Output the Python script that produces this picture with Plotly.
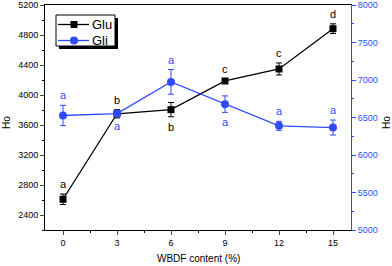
import plotly.graph_objects as go

wbdf = [0, 3, 6, 9, 12, 15]
glu = [2610, 3750, 3805, 4187, 4347, 4884]
glu_err = [70, 55, 95, 25, 80, 65]
gli = [6527, 6553, 6975, 6678, 6389, 6366]
gli_err = [135, 30, 165, 110, 60, 100]
glu_letters = ["a", "b", "b", "c", "c", "d"]
glu_pos = ["up", "up", "down", "up", "up", "up"]
gli_letters = ["a", "a", "a", "a", "a", "a"]
gli_pos = ["up", "down", "up", "down", "up", "up"]
series_names = ["Glu", "Gli"]

BLUE = "#2f4bff"
FONT = "Arial, Liberation Sans, sans-serif"

fig = go.Figure()
fig.add_trace(go.Scatter(
    x=wbdf, y=glu, name=series_names[0], mode="lines+markers",
    line=dict(color="black", width=1.3),
    marker=dict(symbol="square", size=7, color="black"),
    error_y=dict(type="data", array=glu_err, color="black", thickness=1, width=3),
))
fig.add_trace(go.Scatter(
    x=wbdf, y=gli, name=series_names[1], mode="lines+markers", yaxis="y2",
    line=dict(color=BLUE, width=1.3),
    marker=dict(symbol="circle", size=8, color=BLUE),
    error_y=dict(type="data", array=gli_err, color=BLUE, thickness=1, width=3),
))

annotations = []
for x, v, e, t, p in zip(wbdf, glu, glu_err, glu_letters, glu_pos):
    up = p == "up"
    annotations.append(dict(x=x, y=v + e if up else v - e, xref="x", yref="y", text=t,
                            showarrow=False, yanchor="bottom" if up else "top",
                            yshift=2 if up else -2, font=dict(size=11, color="black", family=FONT)))
for x, v, e, t, p in zip(wbdf, gli, gli_err, gli_letters, gli_pos):
    up = p == "up"
    annotations.append(dict(x=x, y=v + e if up else v - e, xref="x", yref="y2", text=t,
                            showarrow=False, yanchor="bottom" if up else "top",
                            yshift=2 if up else -2, font=dict(size=11, color=BLUE, family=FONT)))

W, H = 392, 266
L, R, T, B = 45, 41, 5, 36
pw, ph = W - L - R, H - T - B

def px(x):
    return (x - L) / pw

def py(y):
    return (H - B - y) / ph

# axis titles as annotations (paper coords)
annotations.append(dict(x=px(198), y=py(258), xref="paper", yref="paper", text="WBDF content (%)",
                        xanchor="center", yanchor="middle",
                        showarrow=False, font=dict(size=10, family=FONT, color="black")))
annotations.append(dict(x=px(6), y=py(123), xref="paper", yref="paper", text="Ho", textangle=-90,
                        xanchor="center", yanchor="middle",
                        showarrow=False, font=dict(size=10, family=FONT, color="black")))
annotations.append(dict(x=px(386), y=py(123), xref="paper", yref="paper", text="Ho", textangle=-90,
                        xanchor="center", yanchor="middle",
                        showarrow=False, font=dict(size=10, family=FONT, color="black")))

# manual legend
shapes = [
    dict(type="rect", xref="paper", yref="paper", x0=px(59), x1=px(118), y0=py(49), y1=py(18),
         fillcolor="black", line=dict(width=0), layer="above"),
    dict(type="rect", xref="paper", yref="paper", x0=px(56), x1=px(115), y0=py(46), y1=py(15),
         fillcolor="white", line=dict(color="black", width=1), layer="above"),
]
rows = [(24.5, "black", "square", series_names[0]), (40.5, BLUE, "circle", series_names[1])]
for yc, col, sym, name in rows:
    shapes.append(dict(type="line", xref="paper", yref="paper", x0=px(58), x1=px(89),
                       y0=py(yc), y1=py(yc), line=dict(color=col, width=1.3), layer="above"))
    if sym == "square":
        shapes.append(dict(type="rect", xref="paper", yref="paper", x0=px(70.5), x1=px(77.5),
                           y0=py(yc + 3.5), y1=py(yc - 3.5), fillcolor=col,
                           line=dict(width=0), layer="above"))
    else:
        shapes.append(dict(type="circle", xref="paper", yref="paper", x0=px(70), x1=px(78),
                           y0=py(yc + 4), y1=py(yc - 4), fillcolor=col,
                           line=dict(width=0), layer="above"))
    annotations.append(dict(x=px(90), y=py(yc), xref="paper", yref="paper", text=name,
                            xanchor="left", yanchor="middle", showarrow=False,
                            font=dict(size=13, family=FONT, color="black")))

fig.update_layout(
    width=W, height=H,
    margin=dict(l=L, r=R, t=T, b=B),
    paper_bgcolor="white", plot_bgcolor="white",
    font=dict(family=FONT, size=9, color="black"),
    showlegend=False,
    xaxis=dict(range=[-1, 16], tickvals=wbdf, ticks="outside", ticklen=4, tickwidth=1,
               minor=dict(dtick=1.5, tick0=0, ticks="outside", ticklen=2, tickcolor="black"),
               showline=True, linecolor="black", linewidth=1, mirror=True,
               showgrid=False, zeroline=False, automargin=False),
    yaxis=dict(range=[2200, 5200], dtick=400, tick0=2400, ticks="outside", ticklen=4,
               minor=dict(dtick=200, ticks="outside", ticklen=2, tickcolor="black"),
               showline=True, linecolor="black", linewidth=1,
               showgrid=False, zeroline=False, automargin=False),
    yaxis2=dict(range=[5000, 8000], dtick=500, overlaying="y", side="right",
                ticks="outside", ticklen=4, tickcolor=BLUE,
                minor=dict(dtick=250, ticks="outside", ticklen=2, tickcolor=BLUE),
                showline=True, linecolor=BLUE, linewidth=1,
                tickfont=dict(color=BLUE, size=9),
                showgrid=False, zeroline=False, automargin=False),
    annotations=annotations,
    shapes=shapes,
)

fig.write_html("out.html",
               config={"displayModeBar": False},
               post_script="document.body.style.margin='0';document.body.style.overflow='hidden';")
